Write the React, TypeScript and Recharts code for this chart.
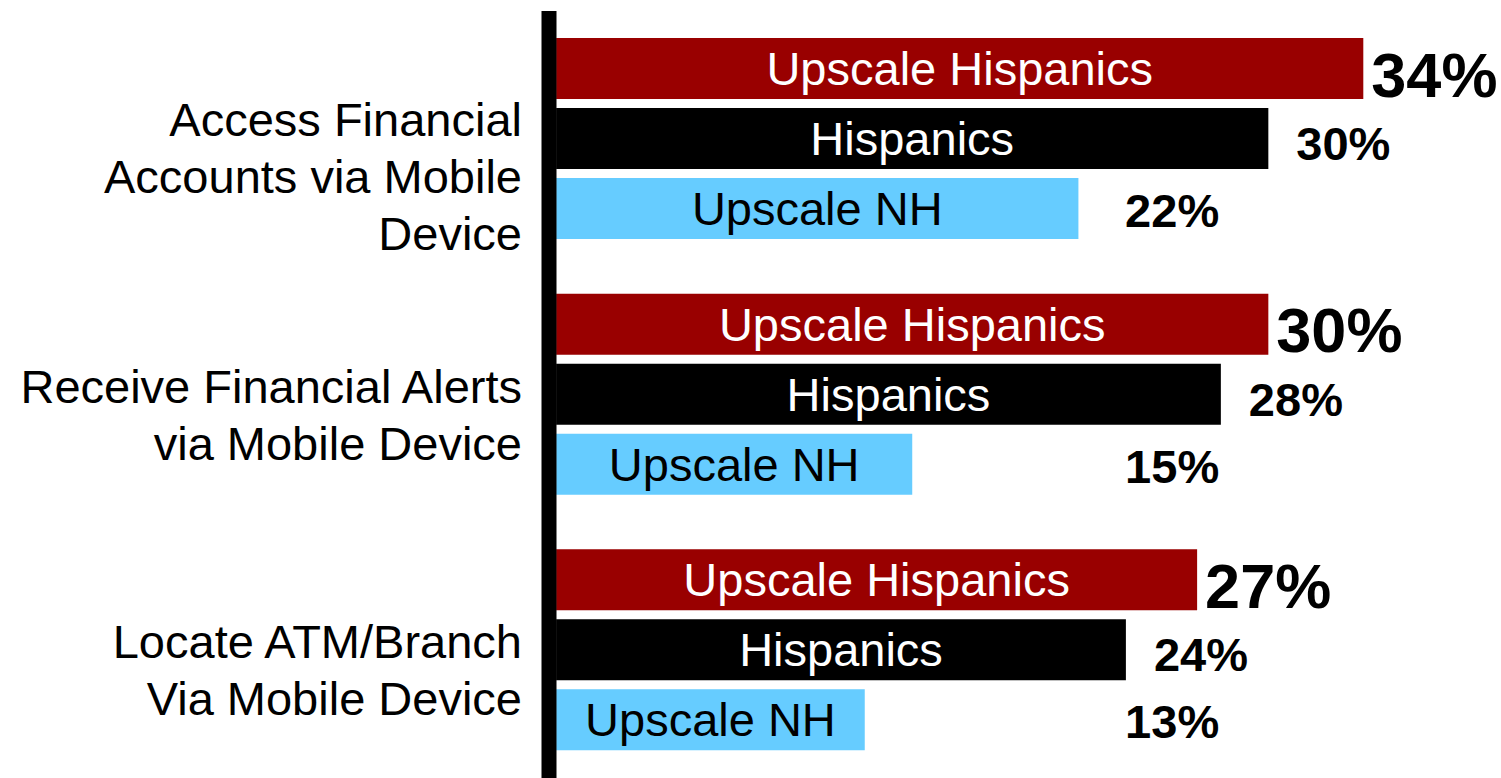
import React from 'react';
import { BarChart, Bar, XAxis, YAxis, LabelList } from 'recharts';

const categories = [
  'Access Financial\nAccounts via Mobile\nDevice',
  'Receive Financial Alerts\nvia Mobile Device',
  'Locate ATM/Branch\nVia Mobile Device',
];
const seriesNames = ['Upscale Hispanics', 'Hispanics', 'Upscale NH'];
const upscaleHispanics = [34, 30, 27];
const hispanics = [30, 28, 24];
const upscaleNH = [22, 15, 13];

const rows = categories.map((name, i) => ({
  name,
  uh: upscaleHispanics[i],
  h: hispanics[i],
  nh: upscaleNH[i],
}));

const FONT = '"Liberation Sans", Arial, sans-serif';

function CategoryTick({ x, y, payload }: any) {
  const lines = String(payload.value).split('\n');
  const n = lines.length;
  const center = y + 18 * (n - 1) + 2;
  const top = center - ((n - 1) * 57) / 2;
  return (
    <g>
      {lines.map((line, i) => (
        <text
          key={i}
          x={x - 27}
          y={top + i * 57}
          textAnchor="end"
          dominantBaseline="central"
          fontSize={47}
          fontFamily={FONT}
          fill="#000"
        >
          {line}
        </text>
      ))}
    </g>
  );
}

const nameLabel = (name: string, color: string) => (p: any) => (
  <text
    x={p.x + p.width / 2}
    y={p.y + p.height / 2}
    textAnchor="middle"
    dominantBaseline="central"
    fontSize={47}
    fontFamily={FONT}
    fill={color}
  >
    {name}
  </text>
);

// value labels: big for upscale hispanics, NH labels sit in a column on the right
const valueLabel = (size: number, dx: number, dy: number, fixed?: boolean) => (p: any) => (
  <text
    x={fixed ? p.x + 569 : p.x + p.width + dx}
    y={p.y + p.height / 2 + dy}
    textAnchor="start"
    dominantBaseline="central"
    fontSize={size}
    fontWeight="bold"
    fontFamily={FONT}
    fill="#000"
  >
    {p.value}%
  </text>
);

export default function App() {
  return (
    <div style={{ position: 'absolute', left: 0, top: 0, width: 1501, height: 778, background: '#fff' }}>
      <BarChart
        width={1501}
        height={778}
        data={rows}
        layout="vertical"
        margin={{ top: 11, right: 0, bottom: 0, left: 0 }}
        barSize={61}
        barGap={9}
      >
        <XAxis type="number" domain={[-0.3, 39.8]} hide />
        <YAxis
          type="category"
          dataKey="name"
          width={549}
          tickLine={false}
          tickSize={0}
          tickMargin={0}
          axisLine={{ stroke: '#000', strokeWidth: 15 }}
          tick={<CategoryTick />}
          interval={0}
        />
        <Bar dataKey="uh" fill="#990000" isAnimationActive={false}>
          <LabelList dataKey="uh" content={nameLabel(seriesNames[0], '#fff')} />
          <LabelList dataKey="uh" content={valueLabel(63, 8, 6)} />
        </Bar>
        <Bar dataKey="h" fill="#000000" isAnimationActive={false}>
          <LabelList dataKey="h" content={nameLabel(seriesNames[1], '#fff')} />
          <LabelList dataKey="h" content={valueLabel(47, 28, 5)} />
        </Bar>
        <Bar dataKey="nh" fill="#66CCFF" isAnimationActive={false}>
          <LabelList dataKey="nh" content={nameLabel(seriesNames[2], '#000')} />
          <LabelList dataKey="nh" content={valueLabel(47, 0, 2, true)} />
        </Bar>
      </BarChart>
    </div>
  );
}
